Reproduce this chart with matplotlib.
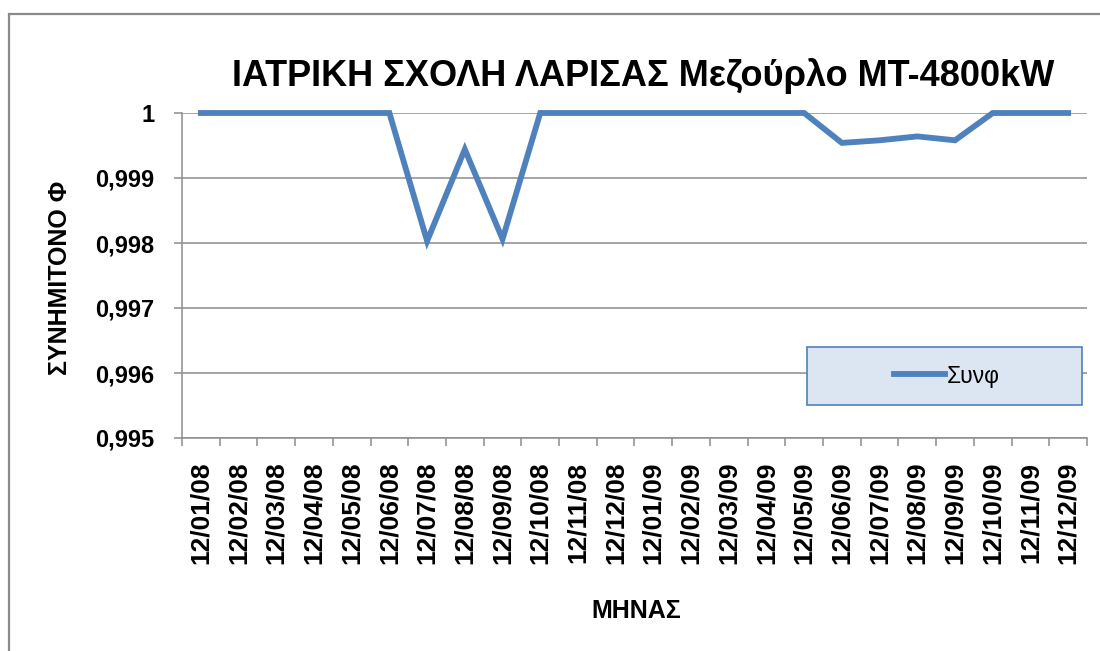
import matplotlib

matplotlib.use("Agg")
import matplotlib.pyplot as plt
from matplotlib.patches import Rectangle
from matplotlib.lines import Line2D

plt.rcParams["font.family"] = ["Liberation Sans", "DejaVu Sans"]

# monthly readings, Dec 2008 .. Dec 2009
months = ["12/01/08", "12/02/08", "12/03/08", "12/04/08", "12/05/08", "12/06/08",
          "12/07/08", "12/08/08", "12/09/08", "12/10/08", "12/11/08", "12/12/08",
          "12/01/09", "12/02/09", "12/03/09", "12/04/09", "12/05/09", "12/06/09",
          "12/07/09", "12/08/09", "12/09/09", "12/10/09", "12/11/09", "12/12/09"]
cosphi = [1.0, 1.0, 1.0, 1.0, 1.0, 1.0,
          0.99803, 0.99944, 0.99806, 1.0, 1.0, 1.0,
          1.0, 1.0, 1.0, 1.0, 1.0, 0.99954,
          0.99958, 0.99964, 0.99958, 1.0, 1.0, 1.0]
yticks = [0.995, 0.996, 0.997, 0.998, 0.999, 1.0]
ytick_labels = ["0,995", "0,996", "0,997", "0,998", "0,999", "1"]

LINE = "#4f81bd"
GRID = "#8c8c8c"

W, H = 1100, 651
fig = plt.figure(figsize=(11, 6.51), dpi=100)
ax = fig.add_axes([182 / W, 1 - 438 / H, 905 / W, 325 / H])

# outer chart border (runs off the right and bottom edges)
fig.patches.append(Rectangle((9 / W, -0.05), 1.2, 1 - 14 / H + 0.05,
                             transform=fig.transFigure, fill=False,
                             edgecolor="#8a8a8a", linewidth=1.6))

x = list(range(len(months)))
ax.plot(x, cosphi, color=LINE, linewidth=4.2, solid_joinstyle="miter",
        clip_on=False, zorder=3)

ax.set_xlim(-0.5, len(months) - 0.5)
ax.set_ylim(0.995, 1.0)
ax.set_yticks(yticks)
ax.set_yticklabels(ytick_labels)
ax.set_xticks(x)
ax.set_xticklabels(months, rotation=90)
ax.set_xticks([i - 0.5 for i in range(len(months) + 1)], minor=True)

ax.grid(axis="y", color=GRID, linewidth=1.1)
ax.set_axisbelow(True)
for s in ("top", "right"):
    ax.spines[s].set_visible(False)
for s in ("left", "bottom"):
    ax.spines[s].set_color(GRID)
    ax.spines[s].set_linewidth(1.1)

ax.tick_params(axis="x", which="major", length=0, pad=17, labelsize=19)
ax.tick_params(axis="x", which="minor", length=6, width=1.1, color=GRID)
ax.tick_params(axis="y", length=6, width=1.1, color=GRID, pad=14, labelsize=17)
for lab in ax.get_xticklabels() + ax.get_yticklabels():
    lab.set_fontweight("bold")

fig.text(643 / W, 1 - 76 / H, "ΙΑΤΡΙΚΗ ΣΧΟΛΗ ΛΑΡΙΣΑΣ Μεζούρλο ΜΤ-4800kW",
         ha="center", va="center", fontsize=26, fontweight="bold")
fig.text(60 / W, 1 - 278 / H, "ΣΥΝΗΜΙΤΟΝΟ Φ", rotation=90,
         ha="center", va="center", fontsize=18, fontweight="bold")
fig.text(636 / W, 1 - 611 / H, "ΜΗΝΑΣ", ha="center", va="center",
         fontsize=18, fontweight="bold")

# legend box inside the plot area
fig.patches.append(Rectangle((807 / W, 1 - 405 / H), 275 / W, 58 / H,
                             transform=fig.transFigure, facecolor="#dce6f2",
                             edgecolor=LINE, linewidth=1.2, zorder=4))
leg = fig.legend([Line2D([], [], color=LINE, linewidth=4.2)], ["Συνφ"],
                 loc="center", bbox_to_anchor=(947 / W, 1 - 376 / H),
                 frameon=False, fontsize=16.5, handlelength=2.2,
                 handletextpad=0.1)
leg.set_zorder(5)

fig.savefig("out.png", facecolor="white")
